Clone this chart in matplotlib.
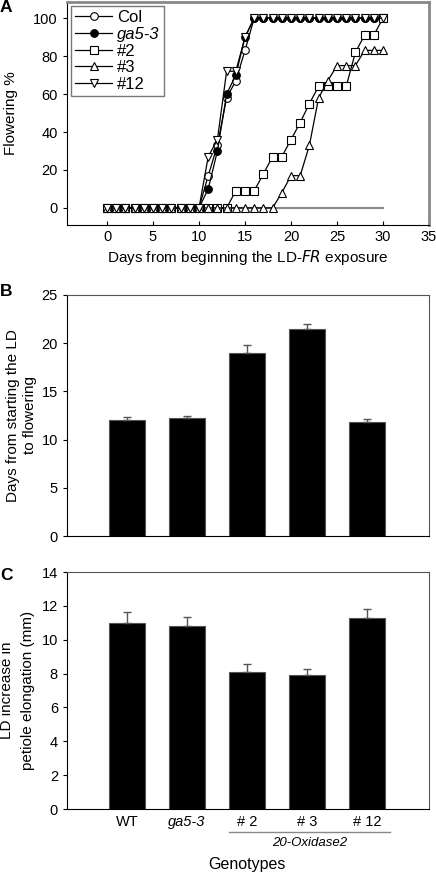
import matplotlib
matplotlib.use('Agg')
import matplotlib.pyplot as plt

plt.rcParams['font.family'] = ['Liberation Sans', 'DejaVu Sans']

# --- Panel A: flowering time course ---
days = list(range(0, 31))
col = [0] * 11 + [17, 33, 58, 67, 83] + [100] * 15
ga53 = [0] * 11 + [10, 30, 60, 70, 90] + [100] * 15
l2 = [0] * 14 + [9, 9, 9, 18, 27, 27, 36, 45, 55, 64, 64, 64, 64, 82, 91, 91, 100]
l3 = [0] * 19 + [8, 17, 17, 33, 58, 67, 75, 75, 75, 83, 83, 83]
l12 = [0] * 11 + [27, 36, 72, 72, 90] + [100] * 15

# --- Panels B and C ---
genotypes = ['WT', 'ga5-3', '# 2', '# 3', '# 12']
days_to_flower = [12.0, 12.25, 19.0, 21.5, 11.8]
days_err = [0.3, 0.15, 0.8, 0.45, 0.3]
petiole = [11.0, 10.8, 8.1, 7.9, 11.3]
petiole_err = [0.65, 0.55, 0.45, 0.35, 0.5]

W, H = 436, 872
fig = plt.figure(figsize=(W / 100, H / 100), dpi=100)

def box(l, t, r, b):
    return [l / W, 1 - b / H, (r - l) / W, (b - t) / H]

TICK = 10.5
LAB = 11

# Panel A
ax = fig.add_axes(box(67, 2, 429, 225))
ax.plot([0, 30], [0, 0], color='#888888', lw=1.5, zorder=1)
style = dict(color='black', lw=0.9, ms=5.5, mew=0.8)
ax.plot(days, col, '-o', mfc='white', label='Col', **style)
ax.plot(days, ga53, '-o', mfc='black', label='ga5-3', **style)
ax.plot(days, l2, '-s', mfc='white', label='#2', **style)
ax.plot(days, l3, '-^', mfc='white', label='#3', **style)
ax.plot(days, l12, '-v', mfc='white', label='#12', **style)
ax.set_xlim(-4.35, 35)
ax.set_ylim(-9, 108.5)
ax.set_xticks(range(0, 36, 5))
ax.set_yticks(range(0, 101, 20))
ax.tick_params(axis='x', direction='in', length=3, labelsize=TICK)
ax.tick_params(axis='y', direction='out', length=3, labelsize=TICK)
ax.set_xlabel('Days from beginning the LD-$\\it{FR}$ exposure', fontsize=LAB, labelpad=3)
ax.set_ylabel('Flowering %', fontsize=LAB, labelpad=11)
for s in ['top', 'right']:
    ax.spines[s].set_color('#888888')
    ax.spines[s].set_linewidth(2)
leg = ax.legend(loc='upper left', fontsize=12, frameon=True, fancybox=False,
                edgecolor='#555555', borderaxespad=0.25, handlelength=2.2,
                labelspacing=0.1, borderpad=0.25, handletextpad=0.3)
leg.get_frame().set_linewidth(1.0)
leg.get_texts()[1].set_style('italic')

pos = [1, 2, 3, 4, 5]

def bar_panel(rect, vals, errs, ylim, yticks, ylabel, pad, spacing):
    a = fig.add_axes(rect)
    a.bar(pos, vals, width=0.6, color='black', edgecolor='#555555', lw=0.8,
          yerr=[[0] * 5, errs], error_kw=dict(ecolor='#555555', capsize=3, elinewidth=1, capthick=1))
    a.set_xlim(0, 6.03)
    a.set_ylim(*ylim)
    a.set_yticks(yticks)
    a.tick_params(axis='y', direction='out', length=3, labelsize=TICK)
    a.set_ylabel(ylabel, fontsize=LAB, labelpad=pad, linespacing=spacing)
    for s in ['top', 'right']:
        a.spines[s].set_color('#555555')
    return a

axb = bar_panel(box(67, 295, 429, 536), days_to_flower, days_err, (0, 25),
                range(0, 26, 5), 'Days from starting the LD\nto flowering', 3, 1.3)
axb.set_xticks([])

axc = bar_panel(box(67, 572, 429, 809), petiole, petiole_err, (0, 14),
                range(0, 15, 2), 'LD increase in\npetiole elongation (mm)', 5, 1.6)
axc.set_xticks(pos)
axc.set_xticklabels(genotypes)
axc.tick_params(axis='x', length=0, labelsize=TICK, pad=4)
axc.get_xticklabels()[1].set_style('italic')

# group line and label under panel C
fig.add_artist(plt.Line2D([229 / W, 390 / W], [1 - 832 / H, 1 - 832 / H],
                          color='#888888', lw=1))
fig.text(310 / W, 1 - 843 / H, '20-Oxidase2', style='italic', fontsize=9.5,
         ha='center', va='center')
fig.text(247 / W, 1 - 864 / H, 'Genotypes', fontsize=11.5, ha='center', va='center')

for lab, y in [('A', 8), ('B', 292), ('C', 575)]:
    fig.text(0 / W, 1 - y / H, lab, fontsize=12.5, fontweight='bold', ha='left', va='center')

plt.savefig('out.png', dpi=100)
